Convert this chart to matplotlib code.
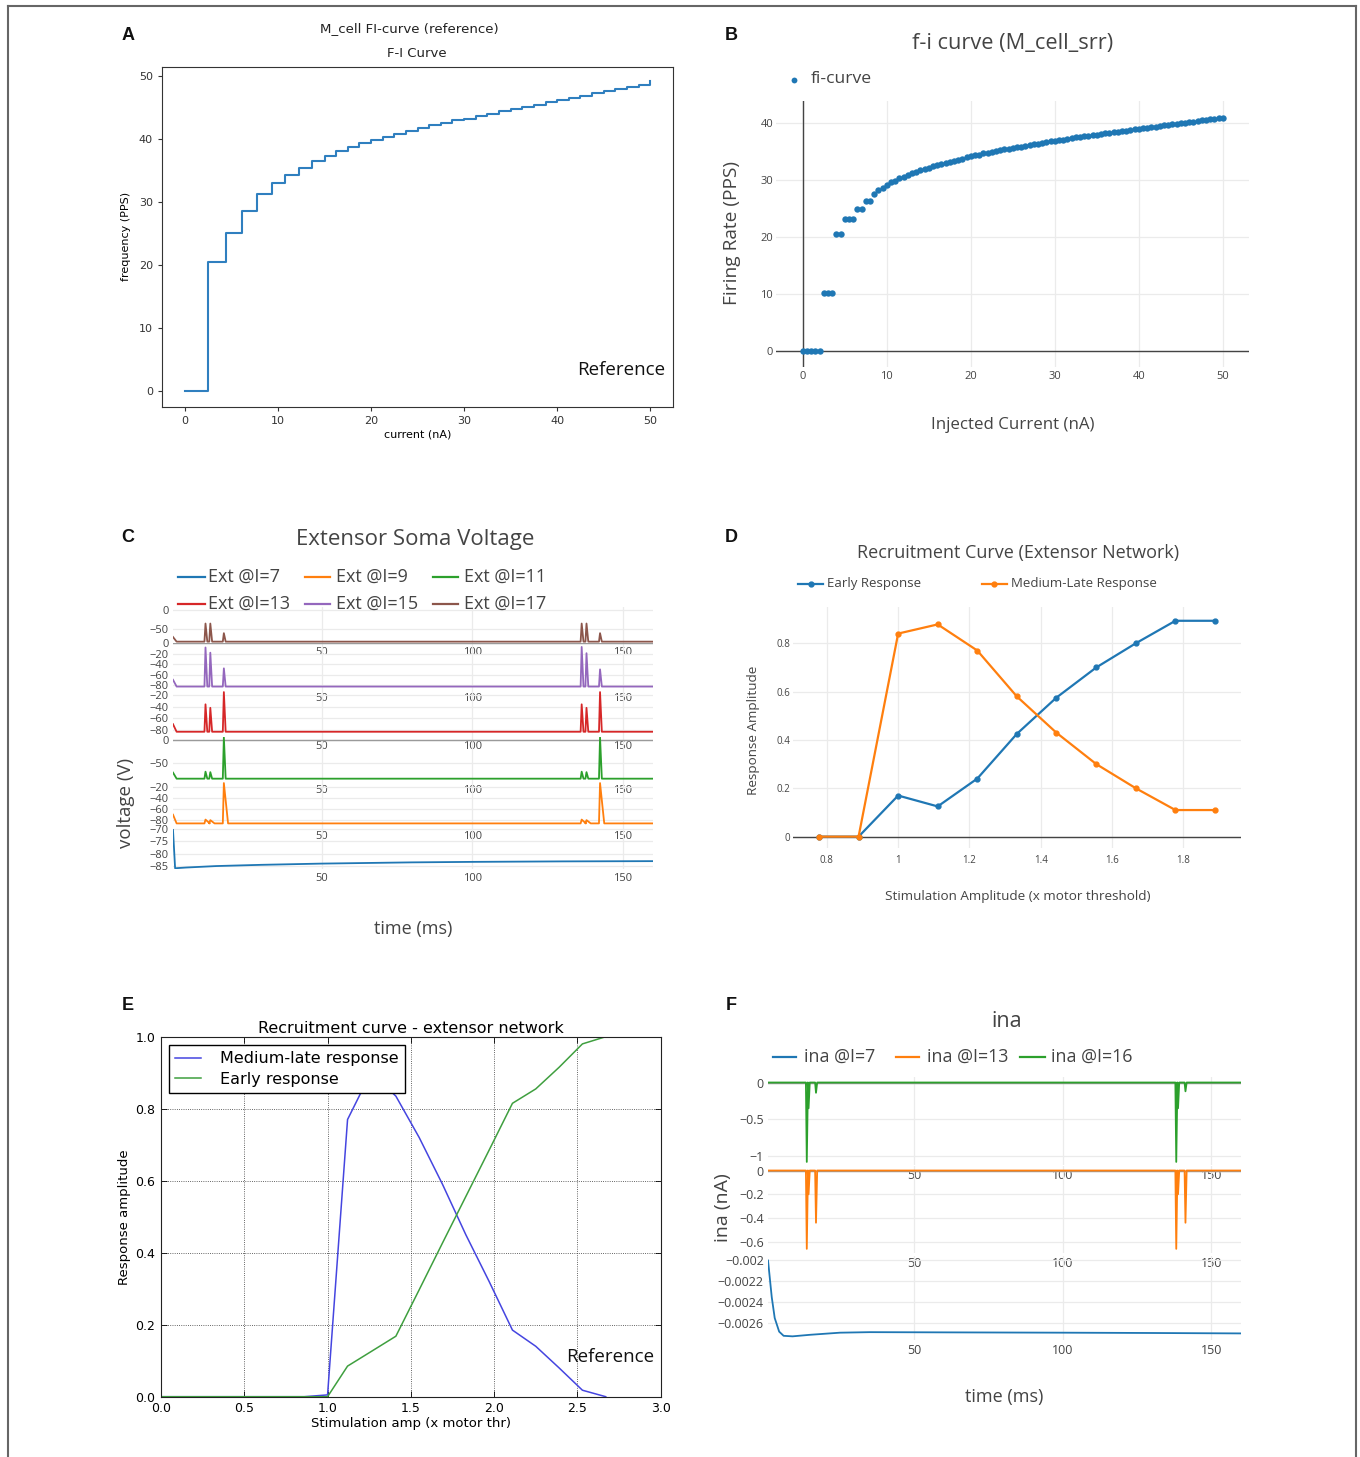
import numpy as np
import matplotlib
matplotlib.use("Agg")
import matplotlib.pyplot as plt
from matplotlib.lines import Line2D

# ---------------- values ----------------

# A: reference M_cell F-I curve (step levels)
a_current = [0, 2.45, 4.45, 6.15, 7.75, 9.3, 10.75, 12.2, 13.6, 15.0,
             16.25, 17.5, 18.75, 20.0, 21.25, 22.5, 23.75, 25.0, 26.25, 27.5,
             28.75, 30.0, 31.25, 32.5, 33.75, 35.0, 36.25, 37.5, 38.75, 40.0,
             41.25, 42.5, 43.75, 45.0, 46.25, 47.5, 48.75, 50.0]
a_freq = [0, 20.5, 25.1, 28.6, 31.2, 33.0, 34.3, 35.4, 36.4, 37.2,
          38.0, 38.7, 39.3, 39.8, 40.3, 40.8, 41.3, 41.7, 42.1, 42.5,
          42.9, 43.2, 43.6, 44.0, 44.4, 44.7, 45.1, 45.4, 45.8, 46.1,
          46.5, 46.8, 47.2, 47.5, 47.9, 48.2, 48.6, 49.2]

# B: f-i curve of M_cell_srr, current stepped by 0.5 nA
b_current = np.arange(0, 50.5, 0.5)
b_rate = [0, 0, 0, 0, 0, 10.2, 10.2, 10.2, 20.5, 20.5,
          23.2, 23.2, 23.2, 25.0, 25.0, 26.4, 26.4, 27.5, 28.2, 28.7,
          29.2, 29.6, 29.9, 30.3, 30.6, 30.9, 31.2, 31.5, 31.7, 32.0,
          32.2, 32.4, 32.6, 32.8, 33.0, 33.2, 33.4, 33.6, 33.8, 34.0,
          34.2, 34.4, 34.5, 34.7, 34.8, 35.0, 35.1, 35.3, 35.4, 35.5,
          35.7, 35.8, 35.9, 36.0, 36.2, 36.3, 36.4, 36.5, 36.7, 36.8,
          36.9, 37.0, 37.1, 37.2, 37.4, 37.5, 37.6, 37.7, 37.8, 37.9,
          38.0, 38.1, 38.2, 38.3, 38.4, 38.5, 38.6, 38.7, 38.8, 38.9,
          39.0, 39.1, 39.2, 39.3, 39.4, 39.5, 39.6, 39.7, 39.8, 39.9,
          40.0, 40.1, 40.2, 40.3, 40.4, 40.5, 40.6, 40.7, 40.8, 40.9,
          41.0]

# C: extensor soma voltage (mV) vs time (ms)
c_labels = ["Ext @I=7", "Ext @I=9", "Ext @I=11", "Ext @I=13", "Ext @I=15", "Ext @I=17"]
c_spike_t = [11.4, 13.0, 17.5, 136.4, 138.0, 142.5]
c_rest = {"Ext @I=9": -86, "Ext @I=11": -83, "Ext @I=13": -83,
          "Ext @I=15": -83, "Ext @I=17": -82}
c_peaks = {"Ext @I=9": [-79, -80, -12, -79, -80, -12],
           "Ext @I=11": [-68, -69, 6, -68, -69, 6],
           "Ext @I=13": [-36, -42, -15, -36, -42, -15],
           "Ext @I=15": [-8, -18, -48, -7, -19, -50],
           "Ext @I=17": [-35, -35, -60, -35, -35, -60]}
c_i7_t = [0.6, 1.3, 5, 15, 30, 50, 80, 100, 130, 160]
c_i7_v = [-70.3, -85.9, -85.6, -85.0, -84.5, -84.0, -83.5, -83.3, -83.1, -83.0]

# D: recruitment curve (plotly version)
d_stim = [0.778, 0.889, 1.0, 1.111, 1.222, 1.333, 1.444, 1.556, 1.667, 1.778, 1.889]
d_early = [0, 0, 0.17, 0.125, 0.24, 0.425, 0.575, 0.70, 0.80, 0.893, 0.893]
d_late = [0, 0, 0.84, 0.878, 0.77, 0.58, 0.43, 0.30, 0.20, 0.11, 0.11]

# E: recruitment curve (reference)
e_stim = [0.0, 0.86, 1.0, 1.12, 1.26, 1.41, 1.55, 1.69, 1.83, 1.97, 2.11, 2.25, 2.39, 2.53, 2.67]
e_late = [0.0, 0.0, 0.005, 0.77, 0.90, 0.835, 0.72, 0.59, 0.45, 0.32, 0.185, 0.14, 0.08, 0.018, 0.0]
e_early = [0.0, 0.0, 0.0, 0.085, 0.125, 0.168, 0.297, 0.427, 0.556, 0.685, 0.815, 0.855, 0.915, 0.98, 1.0]

# F: sodium current ina (nA)
f_labels = ["ina @I=7", "ina @I=13", "ina @I=16"]
f_spike_t = [13.8, 14.4, 16.9, 138.2, 138.8, 141.3]
f_peak_i13 = [-0.66, -0.2, -0.44, -0.66, -0.2, -0.44]
f_peak_i16 = [-1.08, -0.35, -0.14, -1.08, -0.35, -0.12]
f_i7_t = [0.75, 2, 3, 4.5, 6, 9, 15, 25, 35, 60, 100, 130, 160]
f_i7_v = [-0.0020, -0.00235, -0.00255, -0.00268, -0.00272, -0.002725, -0.00271,
          -0.00269, -0.002685, -0.002687, -0.00269, -0.002693, -0.002697]

# ---------------- layout helpers ----------------
W, H = 1360, 1457
PF = ["Open Sans", "DejaVu Sans"]
GREY = "#444444"
C0, C1, C2, C3, C4, C5 = "#1f77b4", "#ff7f0e", "#2ca02c", "#d62728", "#9467bd", "#8c564b"

fig = plt.figure(figsize=(W / 100, H / 100), dpi=100)


def rect(l, t, r, b):
    return [l / W, 1 - b / H, (r - l) / W, (b - t) / H]


def ftext(x, y, s, size, **kw):
    kw.setdefault("ha", "center")
    kw.setdefault("va", "center")
    kw.setdefault("family", PF)
    kw.setdefault("color", GREY)
    return fig.text(x / W, 1 - y / H, s, fontsize=size, **kw)


def legend_item(x0, x1, y, color, label, size, text_x, marker=None):
    yy = 1 - y / H
    fig.add_artist(Line2D([x0 / W, x1 / W], [yy, yy], color=color, lw=1.6))
    if marker:
        fig.add_artist(Line2D([(x0 + x1) / 2 / W], [yy], marker=marker, ms=3.5,
                              color=color, lw=0))
    ftext(text_x, y, label, size, ha="left")


def plotly_ax(box, xlim, ylim, xticks, yticks, size, xpad=3, ypad=3):
    ax = fig.add_axes(rect(*box))
    ax.set_facecolor("none")
    for sp in ax.spines.values():
        sp.set_visible(False)
    ax.set_xlim(xlim)
    ax.set_ylim(ylim)
    ax.set_xticks(xticks)
    ax.set_yticks(yticks)
    ax.grid(True, color="#ebebeb", lw=0.9)
    ax.set_axisbelow(True)
    ax.tick_params(length=0, labelsize=size, labelcolor=GREY, labelfontfamily=PF)
    ax.tick_params(axis="x", pad=xpad)
    ax.tick_params(axis="y", pad=ypad)
    return ax


def spike_trace(t0, v0, rest, times, peaks, t_end, rise, fall):
    t, v = [t0, t0 + 1.2], [v0, rest]
    for tp, vp in zip(times, peaks):
        t += [tp - rise, tp, tp + fall]
        v += [rest, vp, rest]
    t.append(t_end)
    v.append(rest)
    return t, v


def place_labels(ax, xlab, xpos, ylab, ypos, size, family, ysize=None):
    ax.set_xlabel(xlab, fontsize=size, family=family)
    ax.set_ylabel(ylab, fontsize=ysize or size, family=family)
    ax.xaxis.set_label_coords(*xpos)
    ax.yaxis.set_label_coords(*ypos)
    ax.xaxis.label.set_va("center")
    ax.yaxis.label.set_va("center")


# ---------------- A ----------------
axA = fig.add_axes(rect(161.8, 66.7, 673.4, 406.7))
axA.plot(a_current, a_freq, drawstyle="steps-post", color="#2f7fbf", lw=1.5)
axA.set_xlim(-2.5, 52.5)
axA.set_ylim(-2.54, 51.43)
axA.set_xticks(range(0, 51, 10))
axA.set_yticks(range(0, 51, 10))
axA.tick_params(labelsize=8, length=3, width=0.8, colors="#333")
for sp in axA.spines.values():
    sp.set_color("#333")
place_labels(axA, "current (nA)", (0.5, -0.083), "frequency (PPS)", (-0.069, 0.5),
             8, "DejaVu Sans")
ftext(409, 28.3, "M_cell FI-curve (reference)", 9.6, family="DejaVu Sans", color="#222")
ftext(417, 53.3, "F-I Curve", 9.5, family="DejaVu Sans", color="#222")
axA.text(0.897, 0.108, "Reference", transform=axA.transAxes, ha="center", va="center",
         fontsize=13.5, family=PF, color="#111")

# ---------------- B ----------------
axB = plotly_ax((776, 101, 1249, 367), (-3.19, 53.13), (-2.81, 43.9),
                range(0, 51, 10), range(0, 41, 10), 8, xpad=3, ypad=2)
axB.axhline(0, color=GREY, lw=1, zorder=1.5)
axB.axvline(0, color=GREY, lw=1, zorder=1.5)
axB.plot(b_current, b_rate, "o", ms=4.6, mew=0, color=C0)
place_labels(axB, "Injected Current (nA)", (0.5, -0.218), "Firing Rate (PPS)",
             (-0.094, 0.504), 12.2, PF, ysize=13.8)
axB.xaxis.label.set_color(GREY)
axB.yaxis.label.set_color(GREY)
ftext(1012.6, 43.3, "f-i curve (M_cell_srr)", 15.7)
fig.add_artist(Line2D([794 / W], [1 - 80 / H], marker="o", ms=4.2, mew=0, color=C0, lw=0))
ftext(811, 79, "fi-curve", 12.6, ha="left")

# ---------------- C ----------------
c_rows = [("Ext @I=17", C5, 607, 643, (-85.5, 7.8), [0, -50]),
          ("Ext @I=15", C4, 643, 689, (-87.7, 0.6), [0, -20, -40, -60, -80]),
          ("Ext @I=13", C3, 689, 737, (-92, -9.7), [-20, -40, -60, -80]),
          ("Ext @I=11", C2, 737, 781, (-88, 6.4), [0, -50]),
          ("Ext @I=9", C1, 781, 827, (-92.6, -8.2), [-20, -40, -60, -80]),
          ("Ext @I=7", C0, 827, 869, (-86.2, -69.1), [-70, -75, -80, -85])]
for lab, col, top, bot, ylim, yt in c_rows:
    ax = plotly_ax((173, top, 653, bot), (0.6, 160.1), ylim, [50, 100, 150], yt, 8)
    if lab == "Ext @I=7":
        t, v = c_i7_t, c_i7_v
    else:
        fall = 1.4 if lab == "Ext @I=9" else 0.6
        t, v = spike_trace(0.6, -70, c_rest[lab], c_spike_t, c_peaks[lab], 160.1, 0.35, fall)
    if ylim[0] < 0 < ylim[1] and lab != "Ext @I=17":
        ax.axhline(0, color="#9a9a9a", lw=1, zorder=1.5)
    ax.plot(t, v, color=col, lw=1.3)

ftext(415, 540, "Extensor Soma Voltage", 16)
c_colors = dict((r[0], r[1]) for r in c_rows)
for lab, (x0, x1, tx), y in zip(c_labels,
                                [(178, 205, 208), (305, 330, 336), (433, 458, 464)] * 2,
                                [577] * 3 + [604] * 3):
    legend_item(x0, x1, y, c_colors[lab], lab, 13, tx)
ftext(126, 803, "voltage (V)", 13.5, rotation=90)
ftext(413, 929, "time (ms)", 13)

# ---------------- D ----------------
axD = plotly_ax((793, 607, 1241, 848), (0.705, 1.962), (-0.047, 0.95),
                [0.8, 1, 1.2, 1.4, 1.6, 1.8], [0, 0.2, 0.4, 0.6, 0.8], 7, xpad=5, ypad=2)
axD.set_xticklabels(["0.8", "1", "1.2", "1.4", "1.6", "1.8"])
axD.set_yticklabels(["0", "0.2", "0.4", "0.6", "0.8"])
axD.axhline(0, color=GREY, lw=1, zorder=1.5)
axD.plot(d_stim, d_early, "-o", color=C0, lw=1.6, ms=3.5)
axD.plot(d_stim, d_late, "-o", color=C1, lw=1.6, ms=3.5)
place_labels(axD, "Stimulation Amplitude (x motor threshold)", (0.502, -0.202),
             "Response Amplitude", (-0.088, 0.49), 9.7, PF)
axD.xaxis.label.set_color(GREY)
axD.yaxis.label.set_color(GREY)
ftext(1018, 553, "Recruitment Curve (Extensor Network)", 13)
legend_item(798, 823, 584, C0, "Early Response", 9.5, 827, marker="o")
legend_item(982, 1007, 584, C1, "Medium-Late Response", 9.5, 1011, marker="o")

# ---------------- E ----------------
axE = fig.add_axes(rect(161, 1036.7, 660.7, 1396.7))
axE.plot(e_stim, e_late, color="#4545e0", lw=1.1, label="Medium-late response")
axE.plot(e_stim, e_early, color="#3f9f3f", lw=1.1, label="Early response")
axE.set_xlim(0, 3)
axE.set_ylim(0, 1)
axE.set_xticks(np.arange(0, 3.01, 0.5))
axE.set_yticks(np.arange(0, 1.01, 0.2))
axE.grid(True, color="#333", ls=":", lw=0.6)
axE.tick_params(direction="in", top=True, right=True, length=4, width=0.6,
                labelsize=9, pad=4)
for sp in axE.spines.values():
    sp.set_color("#222")
axE.set_title("Recruitment curve - extensor network", fontsize=11.5, pad=3)
place_labels(axE, "Stimulation amp (x motor thr)", (0.5, -0.074),
             "Response amplitude", (-0.073, 0.5), 9.5, "DejaVu Sans")
leg = axE.legend(loc="upper left", bbox_to_anchor=(0.0158, 0.977), borderaxespad=0,
                 fancybox=False, edgecolor="k", framealpha=1, fontsize=11.5,
                 handlelength=1.6, handletextpad=1.2, borderpad=0.4, labelspacing=0.35)
leg.get_frame().set_linewidth(1.0)
axE.text(0.8985, 0.111, "Reference", transform=axE.transAxes, ha="center", va="center",
         fontsize=13.5, family=PF, color="#111")

# ---------------- F ----------------
f_rows = [("ina @I=16", C2, 1077, 1165, (-1.122, 0.075), [0, -0.5, -1],
           ["0", "\u22120.5", "\u22121"]),
          ("ina @I=13", C1, 1166, 1253, (-0.695, 0.038), [0, -0.2, -0.4, -0.6],
           ["0", "\u22120.2", "\u22120.4", "\u22120.6"]),
          ("ina @I=7", C0, 1256, 1340, (-0.00276, -0.001957),
           [-0.002, -0.0022, -0.0024, -0.0026],
           ["\u22120.002", "\u22120.0022", "\u22120.0024", "\u22120.0026"])]
for lab, col, top, bot, ylim, yt, ytl in f_rows:
    ax = plotly_ax((768, top, 1241, bot), (0.74, 160), ylim, [50, 100, 150], yt, 9)
    ax.set_yticklabels(ytl)
    if lab == "ina @I=7":
        t, v = f_i7_t, f_i7_v
    else:
        peaks = f_peak_i16 if lab == "ina @I=16" else f_peak_i13
        t, v = spike_trace(0.74, 0, 0, f_spike_t, peaks, 160, 0.3, 0.4)
        ax.axhline(0, color="#9a9a9a", lw=1, zorder=1.5)
    ax.plot(t, v, color=col, lw=1.3)

ftext(1007, 1021.7, "ina", 15.5)
f_colors = {"ina @I=7": C0, "ina @I=13": C1, "ina @I=16": C2}
for lab, (x0, x1, tx) in zip(f_labels, [(773, 796, 803.6), (896, 919, 926.8),
                                        (1020, 1045, 1050.7)]):
    legend_item(x0, x1, 1057, f_colors[lab], lab, 12.8, tx)
ftext(723, 1208, "ina (nA)", 14, rotation=90)
ftext(1004, 1397, "time (ms)", 13)

# ---------------- panel letters and frame ----------------
for letter, x, y in [("A", 128, 35), ("B", 731, 35), ("C", 128, 538),
                     ("D", 731, 538), ("E", 128, 1005), ("F", 731, 1005)]:
    ftext(x, y, letter, 13, weight="bold", color="#111",
          family=["Liberation Sans", "DejaVu Sans"])

yy = 1 - 6 / H
fig.add_artist(Line2D([8 / W, 8 / W], [0, yy], color="#666", lw=1.5))
fig.add_artist(Line2D([8 / W, 1356 / W], [yy, yy], color="#666", lw=1.5))
fig.add_artist(Line2D([1356 / W, 1356 / W], [0, yy], color="#666", lw=1.5))

fig.savefig("out.png", dpi=100)
